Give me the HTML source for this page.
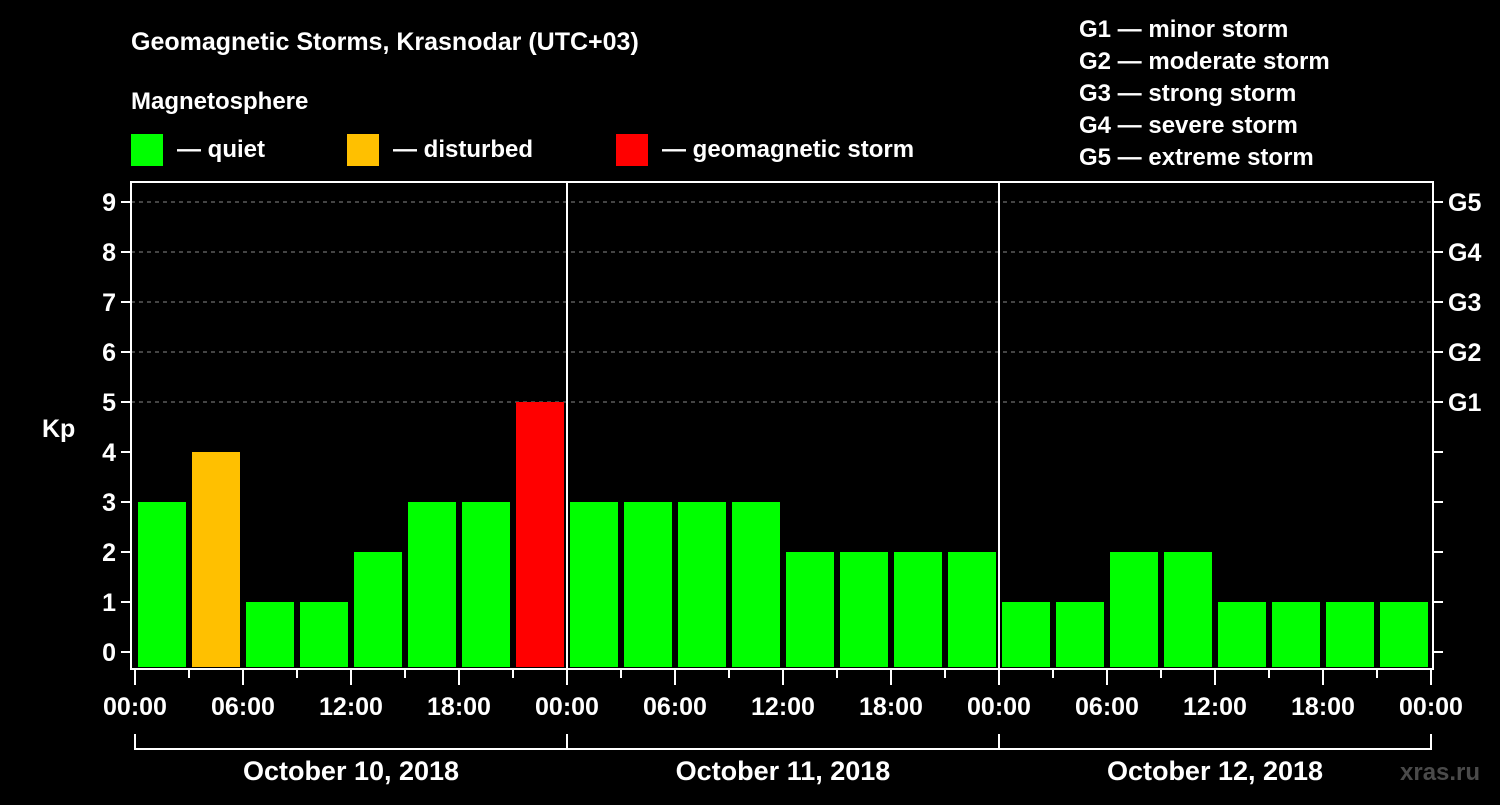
<!DOCTYPE html>
<html><head><meta charset="utf-8"><style>
body{margin:0;background:#000;width:1500px;height:800px;overflow:hidden}
svg text{font-family:"Liberation Sans",sans-serif;font-weight:bold;fill:#fff}
</style></head><body>
<svg id="c" width="1500" height="800" xmlns="http://www.w3.org/2000/svg">
<text x="131" y="50" font-size="25">Geomagnetic Storms, Krasnodar (UTC+03)</text>
<text x="131" y="109" font-size="24">Magnetosphere</text>
<g><rect x="131" y="134" width="32" height="32" fill="#00ff00"/><text x="177" y="157" font-size="24">— quiet</text></g>
<g><rect x="347" y="134" width="32" height="32" fill="#ffc000"/><text x="393" y="157" font-size="24">— disturbed</text></g>
<g><rect x="616" y="134" width="32" height="32" fill="#ff0000"/><text x="662" y="157" font-size="24">— geomagnetic storm</text></g>
<g font-size="24">
<text x="1079" y="37">G1 — minor storm</text>
<text x="1079" y="69">G2 — moderate storm</text>
<text x="1079" y="101">G3 — strong storm</text>
<text x="1079" y="133">G4 — severe storm</text>
<text x="1079" y="165">G5 — extreme storm</text>
</g>
<text x="42" y="437" font-size="25">Kp</text>
<text x="1400" y="780" font-size="24" fill="#555" style="fill:#4a4a4a">xras.ru</text>
<g id="grid"></g><g id="bars"></g><g id="axes"></g>
</svg>
<script>
const kpValues=[3,4,1,1,2,3,3,5, 3,3,3,3,2,2,2,2, 1,1,2,2,1,1,1,1];
const dayLabels=["October 10, 2018","October 11, 2018","October 12, 2018"];
const yTicks=[0,1,2,3,4,5,6,7,8,9];
const gLabels=["G1","G2","G3","G4","G5"];
const hourLabels=["00:00","06:00","12:00","18:00"];
const NS="http://www.w3.org/2000/svg";
const X0=135,SLOT=54,Y0=652,UNIT=50,LEFT=131,RIGHT=1433,TOP=182,BOT=669;
const xs=i=>X0+i*SLOT, ys=v=>Y0-v*UNIT;
function mk(p,tag,a){const e=document.createElementNS(NS,tag);for(const k in a)e.setAttribute(k,a[k]);document.getElementById(p).appendChild(e);return e;}
yTicks.forEach(v=>{
 if(v>=5){const l=mk('grid','line',{x1:LEFT,x2:RIGHT,y1:ys(v),y2:ys(v),stroke:'#888','stroke-dasharray':'4,4','stroke-width':1});
 
 }
 const t=mk('axes','line',{x1:LEFT-10,x2:LEFT,y1:ys(v),y2:ys(v),stroke:'#fff','stroke-width':2});
 
 
 const t2=mk('axes','line',{x1:RIGHT,x2:RIGHT+10,y1:ys(v),y2:ys(v),stroke:'#fff','stroke-width':2});
 
 
 const lb=mk('axes','text',{x:LEFT-15,y:ys(v)+9,'font-size':25,'text-anchor':'end'});lb.textContent=v;
 
 
});
gLabels.forEach((g,i)=>{const lb=mk('axes','text',{x:1448,y:ys(5+i)+9,'font-size':25});lb.textContent=g;
 
 });
kpValues.forEach((v,i)=>{
 const c=v>=5?'#ff0000':v>=4?'#ffc000':'#00ff00';
 const r=mk('bars','rect',{x:xs(i)+3,y:ys(v),width:48,height:667-ys(v),fill:c});
 
 
});
const fr=mk('axes','rect',{x:LEFT,y:TOP,width:RIGHT-LEFT,height:BOT-TOP,fill:'none',stroke:'#fff','stroke-width':2});


for(let d=1;d<3;d++){const l=mk('axes','line',{x1:xs(d*8),x2:xs(d*8),y1:TOP,y2:BOT,stroke:'#fff','stroke-width':2});
 
 }
for(let i=0;i<=24;i++){
 const major=i%2==0;
 const t=mk('axes','line',{x1:xs(i),x2:xs(i),y1:BOT,y2:BOT+(major?16:9),stroke:'#fff','stroke-width':2});
 
 
 if(major){const lb=mk('axes','text',{x:xs(i),y:715,'font-size':25,'text-anchor':'middle'});lb.textContent=hourLabels[(i/2)%4];
 
 }
}
dayLabels.forEach((d,i)=>{
 const p=mk('axes','path',{d:`M${xs(i*8)} 734V749H${xs(i*8+8)}V734`,fill:'none',stroke:'#fff','stroke-width':2});
 
 
 const lb=mk('axes','text',{x:xs(i*8+4),y:780,'font-size':27,'text-anchor':'middle'});lb.textContent=d;
 
 
});
</script>
</body></html>
